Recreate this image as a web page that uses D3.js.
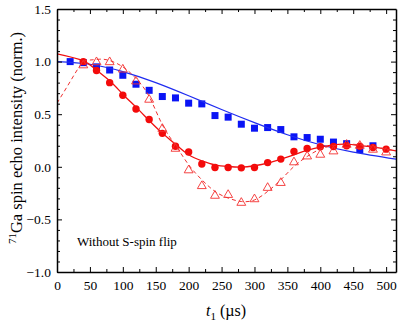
<!DOCTYPE html>
<meta charset="utf-8">
<style>
body { margin: 0; background: #fff; }
text { font-family: "Liberation Serif", "Times New Roman", serif; fill: #000; }
.axis path { stroke: #000; stroke-width: 1.5px; }
.axis line { stroke: #000; stroke-width: 1px; }
.axis text { font-size: 13.5px; }
</style>
<svg width="400" height="325"></svg>
<script src="https://cdn.jsdelivr.net/npm/d3@7"></script>
<script>

// measured data (t1 in us, normalized intensity)
var blueT = [20,40,60,80,100,120,140,160,180,200,220,240,260,280,300,320,340,360,380,400,420,440,460,480];
var blueV = [1.00,0.99,0.95,0.92,0.87,0.785,0.727,0.668,0.655,0.605,0.598,0.487,0.472,0.405,0.367,0.373,0.354,0.285,0.278,0.262,0.235,0.22,0.163,0.2];

var circT = [40,60,80,100,120,140,160,180,200,220,240,260,280,300,320,340,360,380,400,420,440,460,480,500];
var circV = [1.0,0.915,0.80,0.68,0.55,0.45,0.318,0.195,0.14,0.026,-0.006,-0.006,-0.01,-0.006,0.04,0.073,0.145,0.174,0.19,0.193,0.2,0.195,0.183,0.168];

var triT = [40,60,80,100,120,140,160,180,200,220,240,260,280,300,320,340,360,380,400,420,440,460,480,500];
var triV = [0.97,1.0,1.0,0.93,0.817,0.643,0.366,0.177,-0.028,-0.178,-0.27,-0.262,-0.337,-0.303,-0.195,-0.148,0.048,0.104,0.12,0.152,0.215,0.205,0.168,0.142];

// fit curves
var blueFitT = [0,50,100,150,200,250,300,350,400,450,515];
var blueFitV = [1.0,0.975,0.905,0.80,0.675,0.545,0.42,0.305,0.21,0.14,0.073];

var redFitT = [0,40,60,80,100,120,140,160,180,200,220,240,260,280,300,320,340,360,380,400,420,440,460,480,500,515];
var redFitV = [1.073,1.007,0.92,0.817,0.69,0.567,0.44,0.32,0.215,0.114,0.057,0.019,0.003,-0.003,0.01,0.035,0.073,0.114,0.155,0.187,0.209,0.215,0.202,0.187,0.168,0.152];

var dashFitT = [0,20,38,50,65,80,100,120,140,160,180,200,220,240,260,280,300,320,340,360,380,400,420,440,460,480,500,515];
var dashFitV = [0.605,0.81,0.985,1.015,1.023,1.01,0.95,0.84,0.668,0.40,0.205,0.019,-0.123,-0.234,-0.297,-0.33,-0.315,-0.234,-0.124,0.003,0.098,0.168,0.202,0.215,0.209,0.193,0.168,0.155];

var xLabels = [0,50,100,150,200,250,300,350,400,450,500];
var yLabels = [-1.0,-0.5,0.0,0.5,1.0,1.5];

var svg = d3.select("svg");
var mLeft = 57, mRight = 396, mTop = 9, mBottom = 272;

var x = d3.scaleLinear().domain([0, 515]).range([mLeft, mRight]);
var y = d3.scaleLinear().domain([-1, 1.5]).range([mBottom, mTop]);

function pts(ts, vs) { return ts.map(function(t, i) { return [t, vs[i]]; }); }

svg.append("defs").append("clipPath").attr("id", "clip")
  .append("rect").attr("x", mLeft).attr("y", mTop).attr("width", mRight - mLeft).attr("height", mBottom - mTop);

var plot = svg.append("g").attr("clip-path", "url(#clip)");

var line = d3.line()
    .x(function(d) { return x(d[0]); })
    .y(function(d) { return y(d[1]); })
    .curve(d3.curveNatural);

// blue squares + fit
plot.selectAll(".sq")
  .data(pts(blueT, blueV))
  .enter().append("rect")
    .attr("x", function(d) { return x(d[0]) - 3.5; })
    .attr("y", function(d) { return y(d[1]) - 3.5; })
    .attr("width", 7).attr("height", 7)
    .attr("fill", "#0a14f5");

plot.append("path")
  .datum(pts(blueFitT, blueFitV))
  .attr("d", line)
  .attr("fill", "none").attr("stroke", "#1f2cf0").attr("stroke-width", 1.2);

// red circles + fit
plot.selectAll(".ci")
  .data(pts(circT, circV))
  .enter().append("circle")
    .attr("cx", function(d) { return x(d[0]); })
    .attr("cy", function(d) { return y(d[1]); })
    .attr("r", 3.7)
    .attr("fill", "#f40a0a");

plot.append("path")
  .datum(pts(redFitT, redFitV))
  .attr("d", line)
  .attr("fill", "none").attr("stroke", "#f01010").attr("stroke-width", 1.3);

// open triangles + dashed fit
var tri = d3.symbol().type(d3.symbolTriangle).size(34);
plot.selectAll(".tr")
  .data(pts(triT, triV))
  .enter().append("path")
    .attr("d", tri)
    .attr("transform", function(d) { return "translate(" + x(d[0]) + "," + (y(d[1]) + 0.5) + ")"; })
    .attr("fill", "none").attr("stroke", "#f43030").attr("stroke-width", 0.9);

plot.append("path")
  .datum(pts(dashFitT, dashFitV))
  .attr("d", line)
  .attr("fill", "none").attr("stroke", "#f03030").attr("stroke-width", 1)
  .attr("stroke-dasharray", "4,3");

// axes, ticks inward
var xMinor = d3.range(25, 515, 50);
var yMinor = d3.range(-1, 1.5001, 0.1).filter(function(v) { return Math.abs(v * 2 - Math.round(v * 2)) > 0.01; });

svg.append("g").attr("class", "axis").attr("transform", "translate(0," + mBottom + ")")
  .call(d3.axisBottom(x).tickValues(xLabels).tickSizeInner(-5).tickSizeOuter(0).tickPadding(8).tickFormat(d3.format("d")));
svg.append("g").attr("class", "axis").attr("transform", "translate(0," + mBottom + ")")
  .call(d3.axisBottom(x).tickValues(xMinor).tickSize(-3).tickFormat(""))
  .select(".domain").remove();
svg.append("g").attr("class", "axis").attr("transform", "translate(0," + mTop + ")")
  .call(d3.axisTop(x).tickValues(xLabels).tickSizeInner(-5).tickSizeOuter(0).tickFormat(""));
svg.append("g").attr("class", "axis").attr("transform", "translate(0," + mTop + ")")
  .call(d3.axisTop(x).tickValues(xMinor).tickSize(-3).tickFormat(""))
  .select(".domain").remove();

svg.append("g").attr("class", "axis").attr("transform", "translate(" + mLeft + ",0)")
  .call(d3.axisLeft(y).tickValues(yLabels).tickSizeInner(-5).tickSizeOuter(0).tickPadding(6).tickFormat(d3.format(".1f")));
svg.append("g").attr("class", "axis").attr("transform", "translate(" + mLeft + ",0)")
  .call(d3.axisLeft(y).tickValues(yMinor).tickSize(-3).tickFormat(""))
  .select(".domain").remove();
svg.append("g").attr("class", "axis").attr("transform", "translate(" + mRight + ",0)")
  .call(d3.axisRight(y).tickValues(yLabels).tickSizeInner(-5).tickSizeOuter(0).tickFormat(""));
svg.append("g").attr("class", "axis").attr("transform", "translate(" + mRight + ",0)")
  .call(d3.axisRight(y).tickValues(yMinor).tickSize(-3).tickFormat(""))
  .select(".domain").remove();

svg.selectAll(".axis text").style("font-family", "'Liberation Serif', serif").style("font-size", "13.5px");

// titles
var xt = svg.append("text").attr("x", 226).attr("y", 316).attr("text-anchor", "middle").style("font-size", "16px");
xt.append("tspan").style("font-style", "italic").text("t");
xt.append("tspan").attr("dy", 4).style("font-size", "11px").text("1");
xt.append("tspan").attr("dy", -4).text(" (\u00b5s)");

var yt = svg.append("text").attr("transform", "translate(22,138) rotate(-90)").attr("text-anchor", "middle").style("font-size", "16.5px");
yt.append("tspan").attr("dy", -6).style("font-size", "11px").text("71");
yt.append("tspan").attr("dy", 6).text("Ga spin echo intensity (norm.)");

svg.append("text").attr("x", 77).attr("y", 246).style("font-size", "13px").text("Without S-spin flip");

</script>
